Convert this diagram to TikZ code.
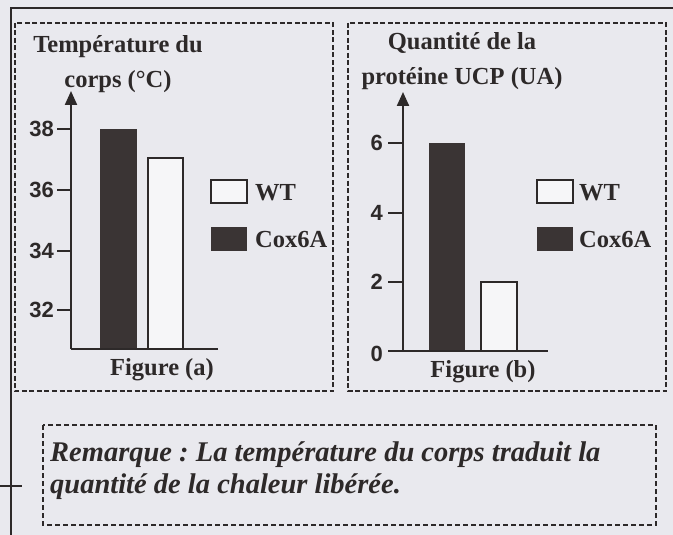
\documentclass[tikz,border=0pt]{standalone}
\usepackage{fontspec}
\setmainfont{Liberation Serif}
\newfontfamily\numfont{Liberation Sans}
\usetikzlibrary{arrows.meta}
\definecolor{paper}{RGB}{233,233,238}
\definecolor{ink}{RGB}{45,41,41}
\definecolor{barfill}{RGB}{58,52,52}
\frenchspacing
\begin{document}
\begin{tikzpicture}[x=1pt,y=-1pt,
  panel/.style={draw=ink, line width=1.3pt, dash pattern=on 5pt off 2.5pt},
  remarkbox/.style={draw=ink, line width=1.1pt, dash pattern=on 5pt off 3pt},
  axisline/.style={draw=ink, line width=2.2pt, line join=miter},
  tickline/.style={draw=ink, line width=1.6pt},
  ticklabel/.style={font=\numfont\bfseries\fontsize{22}{22}\selectfont, text=ink, anchor=east, inner sep=0pt},
  titletext/.style={font=\bfseries\fontsize{24.5}{35}\selectfont, text=ink, align=center, inner sep=0pt},
  legtext/.style={font=\bfseries\fontsize{24.5}{24}\selectfont, text=ink, anchor=west, inner sep=0pt},
  figtext/.style={font=\bfseries\fontsize{24.5}{24}\selectfont, text=ink, inner sep=0pt},
  darkbar/.style={fill=barfill},
  lightbar/.style={draw=ink, line width=1.5pt, fill=paper!40!white},
  legwhite/.style={draw=ink, line width=1.5pt, fill=paper!40!white, minimum width=36pt, minimum height=23pt, inner sep=0pt},
  legdark/.style={fill=barfill, minimum width=36pt, minimum height=24pt, inner sep=0pt},
  arrowtip/.style={-{Triangle[width=12pt,length=14pt]}}
]
\fill[paper] (0,0) rectangle (673,535);
\useasboundingbox (0,0) rectangle (673,535);

% outer frame (partially visible)
\draw[ink, line width=1.6pt] (11,535) -- (11,8) -- (673,8);
\draw[ink, line width=1.6pt] (0,486) -- (22,486);

% ---------- panel (a) ----------
\draw[panel] (15,23) rectangle (333,391);
\node[titletext] (atitle) at (118,64) {Température du\\corps (°C)};

\fill[darkbar] (100,129) rectangle (137,349);
\draw[lightbar] (148,158) rectangle (183,349);

\coordinate (ao) at (71,349);
\coordinate (atop) at (71,91);
\coordinate (axend) at (218,349);
\draw[axisline] (axend) -- (ao);
\draw[axisline, arrowtip] (ao) -- (atop);

\foreach \v/\yy in {38/129, 36/190, 34/251, 32/310}{
  \coordinate (at\v) at (71,\yy);
  \draw[tickline] (at\v) -- ++(-14,0) coordinate (ats\v);
  \node[ticklabel] (al\v) at (54,\yy) {\v};
}

\node[legwhite] (alegwt) at (229,191.5) {};
\node[legtext] (alegwtt) at (255,193) {WT};
\node[legdark] (alegcox) at (229,239) {};
\node[legtext] (alegcoxt) at (255,240) {Cox6A};

\node[figtext] (afig) at (162,370) {Figure (a)};

% ---------- panel (b) ----------
\draw[panel] (348,23) rectangle (666,391);
\node[titletext] (btitle) at (462,61.5) {Quantité de la\\protéine UCP (UA)};

\fill[darkbar] (429,143) rectangle (465,351);
\draw[lightbar] (481,282) rectangle (517,351);

\coordinate (bo) at (403,351);
\coordinate (btop) at (403,92);
\coordinate (bxstart) at (388,351);
\coordinate (bxend) at (548,351);
\draw[axisline] (bxstart) -- (bxend);
\draw[axisline, arrowtip] (bo) -- (btop);

\foreach \v/\yy in {6/143, 4/213, 2/282}{
  \coordinate (bt\v) at (403,\yy);
  \draw[tickline] (bt\v) -- ++(-15,0) coordinate (bts\v);
}
\foreach \v/\yy in {6/143, 4/213, 2/282, 0/354}{
  \node[ticklabel] (bl\v) at (383,\yy) {\v};
}

\node[legwhite] (blegwt) at (555,191.5) {};
\node[legtext] (blegwtt) at (579,193) {WT};
\node[legdark] (blegcox) at (555,239) {};
\node[legtext] (blegcoxt) at (579,240) {Cox6A};

\node[figtext] (bfig) at (483,372) {Figure (b)};

% ---------- remark ----------
\draw[remarkbox] (43,425) rectangle (656,525);
\node[font=\bfseries\itshape\fontsize{28.5}{32}\selectfont, text=ink, align=left, anchor=west, inner sep=0pt] (remark) at (50,471)
  {Remarque : La température du corps traduit la\\quantité de la chaleur libérée.};
\end{tikzpicture}
\end{document}
